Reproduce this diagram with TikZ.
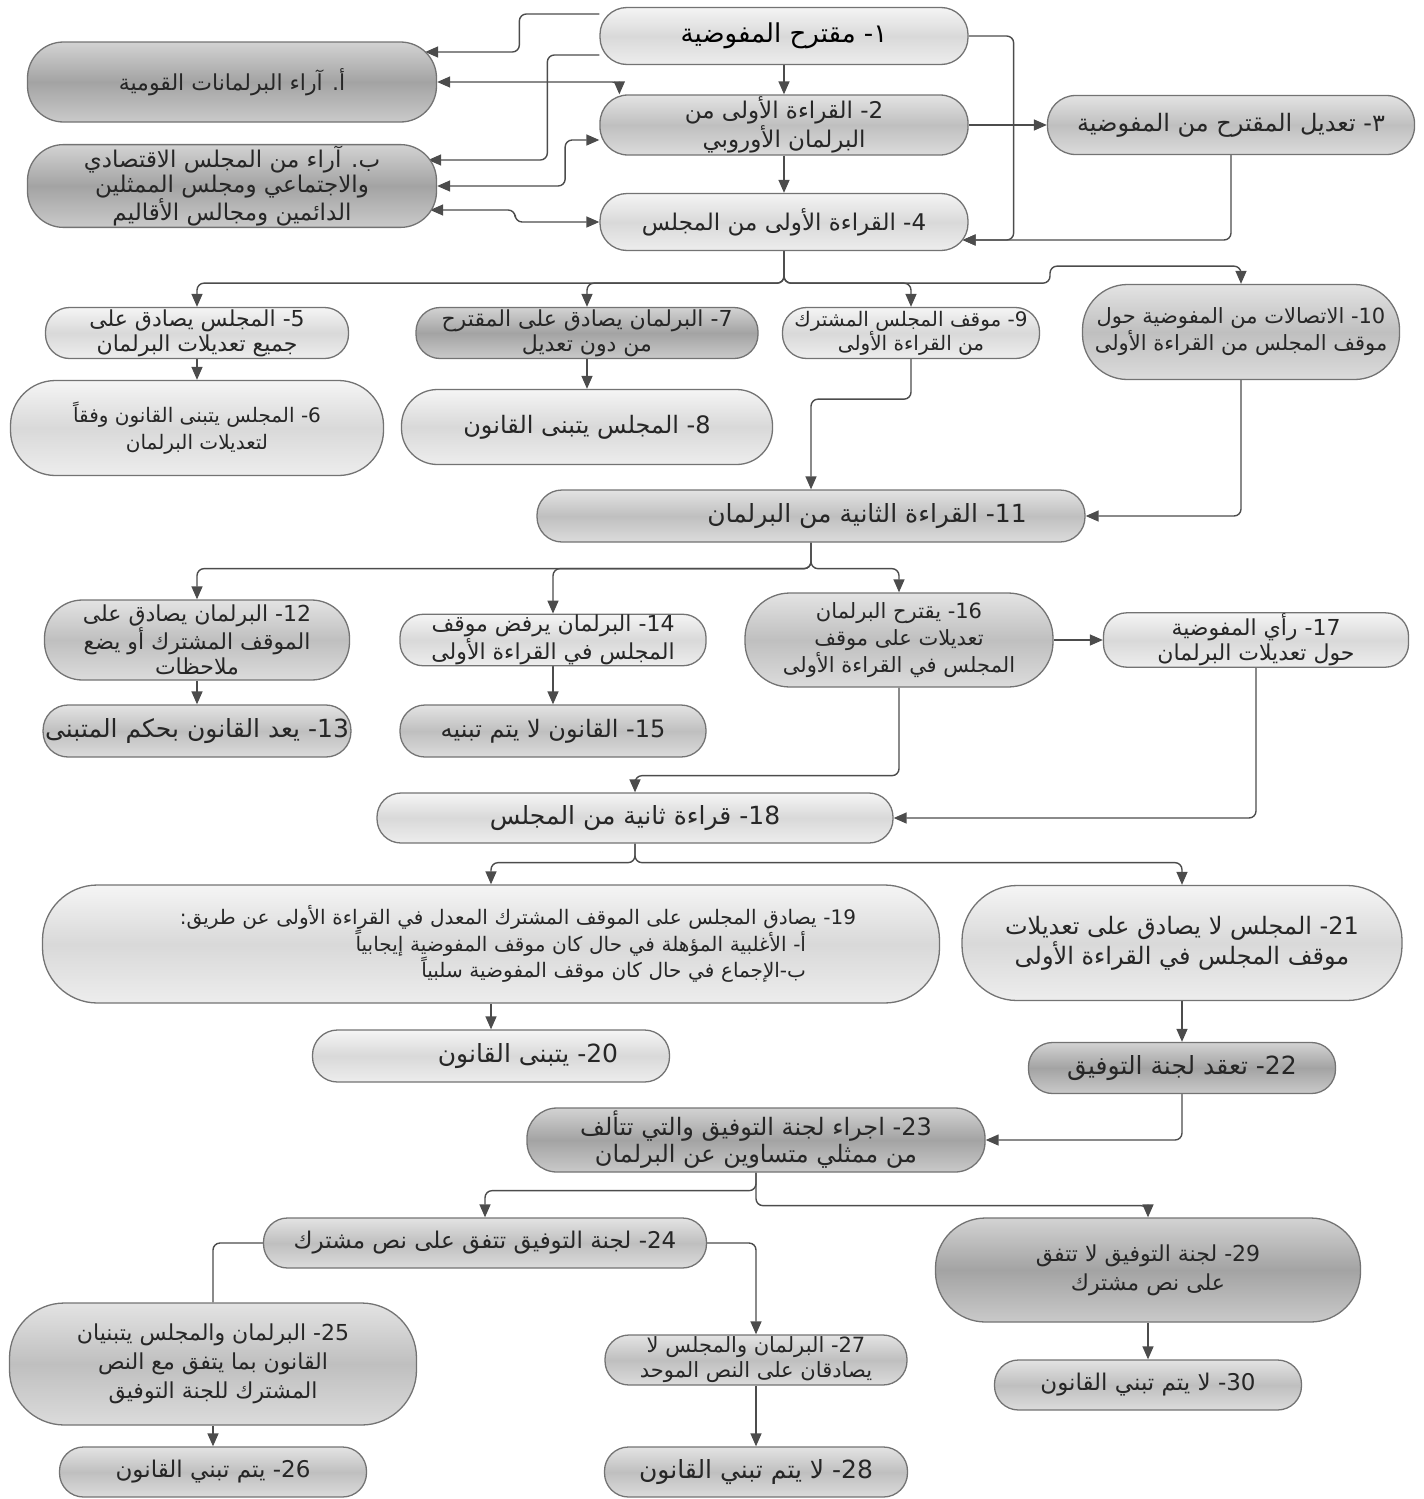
\documentclass[tikz,border=0pt]{standalone}
\usepackage{fontspec}
\newfontfamily\arabicfont[Script=Arabic]{DejaVu Sans}
\TeXXeTstate=1
\usetikzlibrary{arrows.meta,backgrounds}
\newcommand{\ar}[1]{\beginR #1\endR}
\tikzset{
  stage/.style n args={3}{draw=gray!90!black, line width=1.3pt,
    minimum width=#1pt, minimum height=#2pt, rounded corners=#3pt,
    align=center, inner xsep=2pt, inner ysep=1pt, text=black!85,
    font=\arabicfont\fontsize{23}{26}\selectfont},
  fs/.style 2 args={font=\arabicfont\fontsize{#1}{#2}\selectfont},
  pale/.style={top color=gray!8, bottom color=gray!14, middle color=gray!30},
  mid/.style={top color=gray!22, bottom color=gray!28, middle color=gray!50},
  dark/.style={top color=gray!35, bottom color=gray!42, middle color=gray!72},
  link/.style={draw=gray!60!black, line width=1.4pt, rounded corners=7pt,
    -{Triangle[length=13pt,width=11pt]}},
  both/.style={link, {Triangle[length=13pt,width=11pt]}-{Triangle[length=13pt,width=11pt]}},
  wire/.style={draw=gray!60!black, line width=1.4pt, rounded corners=7pt}
}
\begin{document}
\begin{tikzpicture}[x=1pt,y=-1pt]
\useasboundingbox (0,0) rectangle (1424,1499);

\node[stage={368}{57}{27}, pale, fs={26}{30}, text=black] (n1) at (784,36) {\ar{١- مقترح المفوضية}};
\node[stage={409}{80}{36}, dark, fs={22}{26}] (A) at (232,82) {\ar{أ. آراء البرلمانات القومية}};
\node[stage={368}{60}{28}, mid, fs={23}{27}] (n2) at (784,125) {\ar{2- القراءة الأولى من}\\\ar{البرلمان الأوروبي}};
\node[stage={367}{59}{28}, mid, fs={24}{27}] (n3) at (1231,125) {\ar{٣- تعديل المقترح من المفوضية}};
\node[stage={409}{79}{36}, dark, fs={23}{25}] (B) at (232,186) {\ar{ب. آراء من المجلس الاقتصادي}\\\ar{والاجتماعي ومجلس الممثلين}\\\ar{الدائمين ومجالس الأقاليم}};
\node[stage={368}{57}{27}, pale] (n4) at (784,222) {\ar{4- القراءة الأولى من المجلس}};

\node[stage={303}{51}{24}, pale, fs={22}{25}] (n5) at (197,333) {\ar{5- المجلس يصادق على}\\\ar{جميع تعديلات البرلمان}};
\node[stage={342}{51}{24}, dark, fs={22}{25}] (n7) at (587,333) {\ar{7- البرلمان يصادق على المقترح}\\\ar{من دون تعديل}};
\node[stage={257}{51}{24}, pale, fs={20}{24}] (n9) at (911,333) {\ar{9- موقف المجلس المشترك}\\\ar{من القراءة الأولى}};
\node[stage={317}{95}{45}, mid, fs={21}{27}] (n10) at (1241,332) {\ar{10- الاتصالات من المفوضية حول}\\\ar{موقف المجلس من القراءة الأولى}};
\node[stage={373}{95}{45}, pale, fs={20}{27}] (n6) at (197,428) {\ar{6- المجلس يتبنى القانون وفقاً}\\\ar{لتعديلات البرلمان}};
\node[stage={371}{75}{36}, pale, fs={24}{27}] (n8) at (587,427) {\ar{8- المجلس يتبنى القانون}};

\node[stage={548}{52}{25}, mid, fs={25}{27}] (n11) at (811,516) {\ar{11- القراءة الثانية من البرلمان\hspace*{112pt}}};

\node[stage={305}{80}{38}, mid, fs={22}{25}] (n12) at (197,640) {\ar{12- البرلمان يصادق على}\\\ar{الموقف المشترك أو يضع}\\\ar{ملاحظات}};
\node[stage={306}{49}{23}, pale, fs={22}{25}] (n14) at (553,640) {\ar{14- البرلمان يرفض موقف}\\\ar{المجلس في القراءة الأولى}};
\node[stage={308}{94}{45}, mid, fs={21}{27}] (n16) at (899,640) {\ar{16- يقترح البرلمان}\\\ar{تعديلات على موقف}\\\ar{المجلس في القراءة الأولى}};
\node[stage={305}{49}{23}, pale, fs={22}{25}] (n17) at (1256,640) {\ar{17- رأي المفوضية}\\\ar{حول تعديلات البرلمان}};
\node[stage={307}{52}{25}, mid, fs={25}{27}] (n13) at (197,731) {\ar{13- يعد القانون بحكم المتبنى}};
\node[stage={306}{52}{25}, mid, fs={24}{27}] (n15) at (553,731) {\ar{15- القانون لا يتم تبنيه}};

\node[stage={516}{50}{24}, pale, fs={25}{27}] (n18) at (635,818) {\ar{18- قراءة ثانية من المجلس}};

\node[stage={897}{118}{55}, pale, align=right, text width=730pt, fs={20}{25}] (n19) at (491,944)
  {\ar{19- يصادق المجلس على الموقف المشترك المعدل في القراءة الأولى عن طريق:}\\
   \ar{\hspace*{50pt}أ- الأغلبية المؤهلة في حال كان موقف المفوضية إيجابياً}\\
   \ar{\hspace*{50pt}ب-الإجماع في حال كان موقف المفوضية سلبياً}};
\node[stage={440}{115}{55}, pale, fs={24}{28}] (n21) at (1182,943) {\ar{21- المجلس لا يصادق على تعديلات}\\\ar{موقف المجلس في القراءة الأولى}};
\node[stage={357}{52}{25}, pale, fs={25}{27}] (n20) at (491,1056) {\ar{20- يتبنى القانون\hspace*{74pt}}};
\node[stage={307}{51}{24}, dark, fs={25}{27}] (n22) at (1182,1068) {\ar{22- تعقد لجنة التوفيق}};

\node[stage={458}{64}{30}, dark, fs={24}{27}] (n23) at (756,1140) {\ar{23- اجراء لجنة التوفيق والتي تتألف}\\\ar{من ممثلي متساوين عن البرلمان}};

\node[stage={443}{50}{24}, mid] (n24) at (485,1243) {\ar{24- لجنة التوفيق تتفق على نص مشترك}};
\node[stage={425}{104}{50}, dark, fs={22}{29}] (n29) at (1148,1270) {\ar{29- لجنة التوفيق لا تتفق}\\\ar{على نص مشترك}};
\node[stage={407}{122}{55}, mid, fs={22}{29}] (n25) at (213,1364) {\ar{25- البرلمان والمجلس يتبنيان}\\\ar{القانون بما يتفق مع النص}\\\ar{المشترك للجنة التوفيق}};
\node[stage={302}{50}{24}, mid, fs={21}{25}] (n27) at (756,1360) {\ar{27- البرلمان والمجلس لا}\\\ar{يصادقان على النص الموحد}};
\node[stage={307}{50}{24}, mid] (n30) at (1148,1385) {\ar{30- لا يتم تبني القانون}};
\node[stage={307}{50}{24}, mid] (n26) at (213,1472) {\ar{26- يتم تبني القانون}};
\node[stage={303}{50}{24}, mid, fs={25}{27}] (n28) at (756,1472) {\ar{28- لا يتم تبني القانون}};

\begin{scope}[on background layer]
\draw[link] ([yshift=22pt]n1.west) -- ++(-80,0) |- ([yshift=30pt,xshift=-12pt]A.east);
\draw[link] ([yshift=-19pt]n1.west) -- ++(-52,0) |- ([yshift=26pt,xshift=-9pt]B.east);
\draw[both] (A.east) -| ([xshift=20pt]n2.north west);
\draw[both] (B.east) -- ++(128,0) |- ([yshift=-15pt]n2.west);
\draw[both] ([yshift=-24pt,xshift=-7pt]B.east) -- ++(85,0) |- (n4.west);
\draw[link] (n1.south) -- (n2.north);
\draw[link] (n2.south) -- (n4.north);
\draw[link] (n1.east) -- ++(45,0) |- ([yshift=-18pt,xshift=-6pt]n4.east);
\draw[link] (n2.east) -- (n3.west);
\draw[link] (n3.south) |- ([yshift=-18pt,xshift=-6pt]n4.east);

\draw[link] (n4.south) -- ++(0,32) -| (n5.north);
\draw[link] (n4.south) -- ++(0,32) -| (n7.north);
\draw[link] (n4.south) -- ++(0,32) -| (n9.north);
\draw[link] (n4.south) -- ++(0,32) -- ++(266,0) -- ++(0,-17) -| (n10.north);
\draw[link] (n5.south) -- (n6.north);
\draw[link] (n7.south) -- (n8.north);
\draw[link] (n9.south) -- ++(0,40) -| (n11.north);
\draw[link] (n10.south) |- (n11.east);

\draw[link] (n11.south) -- ++(0,26) -| (n12.north);
\draw[link] (n11.south) -- ++(0,26) -| (n14.north);
\draw[link] (n11.south) -- ++(0,26) -| (n16.north);
\draw[link] (n12.south) -- (n13.north);
\draw[link] (n14.south) -- (n15.north);
\draw[link] (n16.east) -- (n17.west);
\draw[link] (n16.south) -- ++(0,88) -| (n18.north);
\draw[link] (n17.south) |- (n18.east);

\draw[link] (n18.south) -- ++(0,19) -| (n19.north);
\draw[link] (n18.south) -- ++(0,19) -| (n21.north);
\draw[link] (n19.south) -- (n20.north);
\draw[link] (n21.south) -- (n22.north);
\draw[link] (n22.south) |- (n23.east);

\draw[link] (n23.south) -- ++(0,18) -| (n24.north);
\draw[link] (n23.south) -- ++(0,33) -| (n29.north);
\draw[wire] (n24.west) -| (n25.north);
\draw[link] (n24.east) -| (n27.north);
\draw[link] (n25.south) -- (n26.north);
\draw[link] (n27.south) -- (n28.north);
\draw[link] (n29.south) -- (n30.north);
\end{scope}
\end{tikzpicture}
\end{document}
